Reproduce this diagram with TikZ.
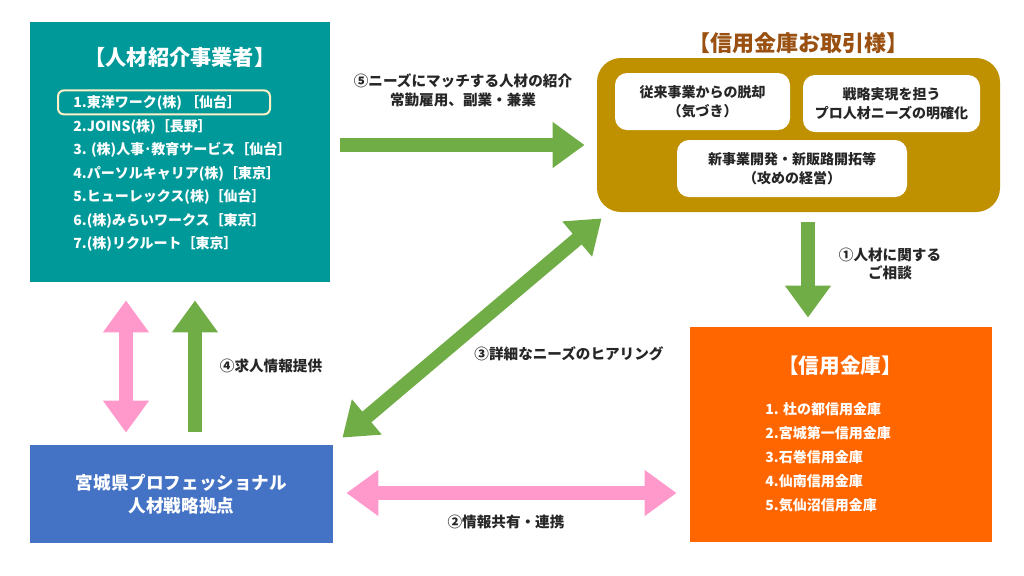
\documentclass[tikz,border=0pt]{standalone}
\usepackage{fontspec}
\setmainfont{Noto Sans CJK JP}
\usepackage{tikz}
\usetikzlibrary{positioning}
\usetikzlibrary{arrows.meta}
\usetikzlibrary{calc}
\usepackage{xcolor}
\definecolor{agencyteal}{RGB}{0,153,153}
\definecolor{clientgold}{RGB}{191,144,0}
\definecolor{titlebrown}{RGB}{153,80,16}
\definecolor{bankorange}{RGB}{255,102,0}
\definecolor{hubblue}{RGB}{68,114,196}
\definecolor{flowgreen}{RGB}{112,173,71}
\definecolor{flowpink}{RGB}{255,153,204}
\definecolor{framecream}{RGB}{255,240,200}
\definecolor{labelgray}{RGB}{38,38,38}

\begin{document}
\begin{tikzpicture}[x=0.5pt,y=-0.5pt,
	>={Triangle[width=22pt,length=16pt]},
	panel/.style={rectangle, inner sep=0pt, font=\bfseries, text=white},
	needbox/.style={rectangle, rounded corners=6pt, fill=white, inner sep=0pt, align=center, font=\fontsize{7}{9.5}\selectfont\bfseries, text=labelgray, minimum height=28.5pt},
	flowlabel/.style={align=center, inner sep=0pt, font=\fontsize{7.3}{9.5}\selectfont\bfseries, text=labelgray},
	greenflow/.style={draw=flowgreen, line width=7pt},
	pinkflow/.style={draw=flowpink, line width=7pt}]
	\useasboundingbox (0,0) rectangle (1024,575);

	% boxes
	\node[panel, fill=agencyteal, minimum width=150pt, minimum height=130pt] (agency) at (180,152) {};
	\node[panel, fill=clientgold, rounded corners=12pt, minimum width=201.5pt, minimum height=77pt] (clients) at (798.5,135) {};
	\node[panel, fill=bankorange, minimum width=151pt, minimum height=107.5pt] (banks) at (841,434.5) {};
	\node[panel, fill=hubblue, minimum width=151.5pt, minimum height=49pt, align=center,
		font=\fontsize{8.8}{11.5}\selectfont\bfseries] (hub) at (181.5,494) {宮城県プロフェッショナル\\人材戦略拠点};

	% titles
	\node[panel, font=\fontsize{10.6}{12}\selectfont\bfseries] (agtitle) at (180,57) {【人材紹介事業者】};
	\node[panel, text=titlebrown, font=\fontsize{11}{12}\selectfont\bfseries, above=1.5pt of clients] (cltitle) {【信用金庫お取引様】};
	\node[panel, font=\fontsize{10.3}{12}\selectfont\bfseries] (bktitle) at (840,366) {【信用金庫】};

	% lists
	\matrix (aglist) [anchor=north west, inner sep=0pt, row sep=4.25pt,
		nodes={rectangle, anchor=west, inner sep=0pt, text height=6pt, text depth=1.5pt, text=white, font=\fontsize{7}{8}\selectfont\bfseries}] at (73,95.5)
	{
		\node (ag1) {1.東洋ワーク(株) ［仙台］}; \\
		\node (ag2) {2.JOINS(株)［長野］}; \\
		\node (ag3) {3. (株)人事･教育サービス［仙台］}; \\
		\node (ag4) {4.パーソルキャリア(株)［東京］}; \\
		\node (ag5) {5.ヒューレックス(株)［仙台］}; \\
		\node (ag6) {6.(株)みらいワークス［東京］}; \\
		\node (ag7) {7.(株)リクルート［東京］}; \\
	};
	\draw[framecream, line width=1pt, rounded corners=3pt] ($(ag1.west)+(-15,-13)$) rectangle ($(ag1.west)+(197,11)$);

	\matrix (bklist) [anchor=north west, inner sep=0pt, row sep=4.4pt,
		nodes={rectangle, anchor=west, inner sep=0pt, text height=6pt, text depth=1.5pt, text=white, font=\fontsize{7}{8}\selectfont\bfseries}] at (765,402.5)
	{
		\node (bk1) {1. 杜の都信用金庫}; \\
		\node (bk2) {2.宮城第一信用金庫}; \\
		\node (bk3) {3.石巻信用金庫}; \\
		\node (bk4) {4.仙南信用金庫}; \\
		\node (bk5) {5.気仙沼信用金庫}; \\
	};

	% needs inside the client box
	\node[needbox, minimum width=87.5pt] (need1) at (702.5,101.5) {従来事業からの脱却\\（気づき）};
	\node[needbox, minimum width=88.5pt] (need2) at (891.5,103.5) {戦略実現を担う\\プロ人材ニーズの明確化};
	\node[needbox, minimum width=115pt] (need3) at (792,168.5) {新事業開発・新販路開拓等\\（攻めの経営）};

	% flows
	\draw[greenflow, ->] ($(agency.east)+(10,-7)$) -- ($(clients.west)+(-12,10)$);
	\draw[greenflow, ->] ($(clients.south)+(9.5,10)$) -- ($(banks.north)+(-33,-9)$);
	\draw[greenflow, <->] ($(hub.north east)+(9,-7)$) -- ($(clients.south west)+(5,6)$);
	\draw[greenflow, ->] ($(hub.north)+(13.5,-13)$) -- ($(agency.south)+(15,18)$);
	\draw[pinkflow, <->] ($(agency.south)+(-54,18)$) -- ($(hub.north)+(-55.5,-12)$);
	\draw[pinkflow, <->] ($(hub.east)+(13,-1)$) -- ($(banks.west)+(-13,58.5)$);

	% flow labels
	\node[flowlabel] (lab5) at (463,90) {⑤ニーズにマッチする人材の紹介\\常勤雇用、副業・兼業};
	\node[flowlabel, font=\fontsize{7.3}{9}\selectfont\bfseries] (lab1) at (890,264) {①人材に関する\\ご相談};
	\node[flowlabel] (lab3) at (569,354) {③詳細なニーズのヒアリング};
	\node[flowlabel] (lab4) at (271,366) {④求人情報提供};
	\node[flowlabel] (lab2) at (506,522) {②情報共有・連携};
\end{tikzpicture}
\end{document}
